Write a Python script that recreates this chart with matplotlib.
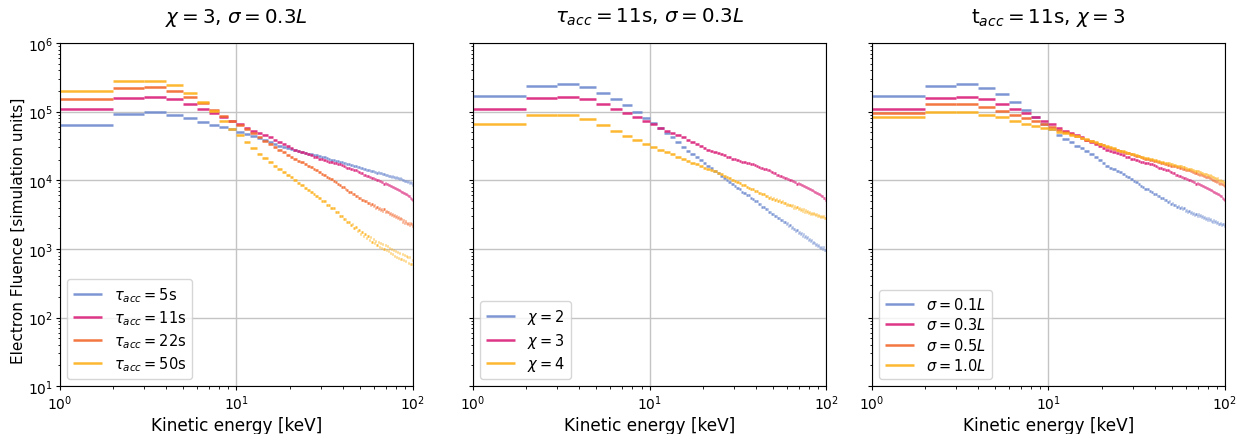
import matplotlib.pyplot as plt
import numpy as np

# energy bin edges [keV], 1 keV wide bins from 1 to 100
edges = np.arange(1, 101)

# electron fluence per bin [simulation units]
tau5 = [6.4e4, 9.2e4, 9.8e4, 9.0e4, 8.1e4, 7.1e4, 6.3e4, 5.9e4, 5.5e4, 5.1e4,
        4.7e4, 4.4e4, 4.1e4, 3.8e4, 3.6e4, 3.4e4, 3.2e4, 3.05e4, 2.95e4, 2.85e4,
        2.75e4, 2.65e4, 2.6e4, 2.5e4, 2.45e4, 2.42e4, 2.35e4, 2.3e4, 2.26e4, 2.2e4,
        2.15e4, 2.12e4, 2.05e4, 2.0e4, 1.98e4, 1.93e4, 1.9e4, 1.87e4, 1.82e4, 1.79e4,
        1.77e4, 1.73e4, 1.7e4, 1.68e4, 1.64e4, 1.63e4, 1.6e4, 1.55e4, 1.54e4, 1.53e4,
        1.49e4, 1.48e4, 1.46e4, 1.43e4, 1.42e4, 1.41e4, 1.38e4, 1.37e4, 1.37e4, 1.33e4,
        1.33e4, 1.29e4, 1.3e4, 1.28e4, 1.26e4, 1.26e4, 1.23e4, 1.24e4, 1.2e4, 1.2e4,
        1.2e4, 1.17e4, 1.15e4, 1.16e4, 1.13e4, 1.14e4, 1.11e4, 1.12e4, 1.08e4, 1.1e4,
        1.07e4, 1.08e4, 1.05e4, 1.06e4, 1.03e4, 1.04e4, 1.0e4, 1.01e4, 9.7e3, 9.9e3,
        9.6e3, 9.7e3, 9.3e3, 9.6e3, 9.2e3, 9.3e3, 8.9e3, 9.1e3, 8.6e3]

tau11 = [1.10e5, 1.57e5, 1.65e5, 1.50e5, 1.27e5, 1.10e5, 9.4e4, 8.2e4, 7.3e4, 6.5e4,
         5.8e4, 5.3e4, 4.9e4, 4.5e4, 4.2e4, 3.9e4, 3.6e4, 3.37e4, 3.15e4, 2.95e4,
         2.75e4, 2.66e4, 2.55e4, 2.46e4, 2.37e4, 2.31e4, 2.21e4, 2.16e4, 2.07e4, 2.01e4,
         1.96e4, 1.93e4, 1.87e4, 1.86e4, 1.8e4, 1.78e4, 1.72e4, 1.7e4, 1.64e4, 1.61e4,
         1.58e4, 1.53e4, 1.52e4, 1.46e4, 1.45e4, 1.4e4, 1.39e4, 1.34e4, 1.33e4, 1.28e4,
         1.26e4, 1.21e4, 1.21e4, 1.17e4, 1.17e4, 1.13e4, 1.13e4, 1.09e4, 1.09e4, 1.04e4,
         1.04e4, 1.0e4, 1.0e4, 9.6e3, 9.6e3, 9.3e3, 9.3e3, 8.9e3, 9.0e3, 8.7e3,
         8.8e3, 8.4e3, 8.5e3, 8.2e3, 8.3e3, 7.9e3, 8.0e3, 7.7e3, 7.8e3, 7.5e3,
         7.5e3, 7.2e3, 7.3e3, 7.0e3, 7.0e3, 6.7e3, 6.8e3, 6.5e3, 6.6e3, 6.3e3,
         6.4e3, 6.1e3, 6.1e3, 5.8e3, 5.9e3, 5.6e3, 5.6e3, 5.3e3, 5.2e3]

tau22 = [1.55e5, 2.19e5, 2.26e5, 2.0e5, 1.62e5, 1.32e5, 1.04e5, 8.6e4, 7.4e4, 6.4e4,
         5.5e4, 4.8e4, 4.2e4, 3.7e4, 3.35e4, 3.05e4, 2.8e4, 2.55e4, 2.35e4, 2.2e4,
         2.05e4, 1.93e4, 1.82e4, 1.72e4, 1.63e4, 1.55e4, 1.47e4, 1.4e4, 1.33e4, 1.24e4,
         1.18e4, 1.12e4, 1.06e4, 1.03e4, 9.7e3, 9.4e3, 8.8e3, 8.6e3, 8.1e3, 7.9e3,
         7.4e3, 7.3e3, 6.8e3, 6.8e3, 6.4e3, 6.3e3, 5.9e3, 5.9e3, 5.6e3, 5.6e3,
         5.2e3, 5.2e3, 4.9e3, 5.0e3, 4.6e3, 4.7e3, 4.4e3, 4.5e3, 4.2e3, 4.3e3,
         4.0e3, 4.1e3, 3.85e3, 4.0e3, 3.7e3, 3.85e3, 3.6e3, 3.75e3, 3.5e3, 3.6e3,
         3.4e3, 3.5e3, 3.25e3, 3.35e3, 3.1e3, 3.2e3, 3.0e3, 3.1e3, 2.9e3, 3.0e3,
         2.8e3, 2.9e3, 2.7e3, 2.8e3, 2.6e3, 2.7e3, 2.5e3, 2.6e3, 2.42e3, 2.52e3,
         2.36e3, 2.48e3, 2.32e3, 2.42e3, 2.26e3, 2.38e3, 2.22e3, 2.3e3, 2.15e3]

tau50 = [1.98e5, 2.76e5, 2.82e5, 2.41e5, 1.85e5, 1.36e5, 1.03e5, 7.4e4, 5.6e4, 4.5e4,
         3.6e4, 2.9e4, 2.45e4, 2.1e4, 1.85e4, 1.62e4, 1.45e4, 1.3e4, 1.2e4, 1.1e4,
         1.0e4, 9.2e3, 8.5e3, 7.6e3, 7.2e3, 6.7e3, 6.3e3, 5.9e3, 5.5e3, 5.0e3,
         4.9e3, 4.4e3, 4.3e3, 3.9e3, 3.9e3, 3.45e3, 3.45e3, 3.05e3, 3.05e3, 2.7e3,
         2.75e3, 2.45e3, 2.5e3, 2.2e3, 2.3e3, 2.0e3, 2.1e3, 1.85e3, 1.9e3, 1.65e3,
         1.75e3, 1.52e3, 1.65e3, 1.42e3, 1.55e3, 1.33e3, 1.48e3, 1.25e3, 1.4e3, 1.2e3,
         1.32e3, 1.13e3, 1.27e3, 1.08e3, 1.23e3, 1.04e3, 1.18e3, 1.0e3, 1.14e3, 9.6e2,
         1.1e3, 9.2e2, 1.04e3, 8.8e2, 1.0e3, 8.4e2, 9.6e2, 8.0e2, 9.3e2, 7.6e2,
         8.9e2, 7.4e2, 8.7e2, 7.2e2, 8.5e2, 7.0e2, 8.3e2, 6.8e2, 8.1e2, 6.6e2,
         7.9e2, 6.5e2, 7.7e2, 6.3e2, 7.5e2, 6.1e2, 7.2e2, 6.0e2, 6.8e2]

chi2 = [1.67e5, 2.39e5, 2.5e5, 2.26e5, 1.89e5, 1.52e5, 1.25e5, 1.0e5, 8.1e4, 6.8e4,
        5.7e4, 4.9e4, 4.2e4, 3.55e4, 3.05e4, 2.7e4, 2.4e4, 2.15e4, 1.95e4, 1.78e4,
        1.63e4, 1.5e4, 1.38e4, 1.27e4, 1.17e4, 1.08e4, 1.0e4, 9.4e3, 8.8e3, 8.3e3,
        7.8e3, 7.4e3, 6.8e3, 6.6e3, 6.1e3, 6.0e3, 5.5e3, 5.4e3, 5.0e3, 4.9e3,
        4.5e3, 4.5e3, 4.1e3, 4.1e3, 3.8e3, 3.8e3, 3.5e3, 3.5e3, 3.2e3, 3.25e3,
        3.0e3, 3.05e3, 2.8e3, 2.85e3, 2.6e3, 2.65e3, 2.45e3, 2.5e3, 2.3e3, 2.35e3,
        2.15e3, 2.2e3, 2.03e3, 2.08e3, 1.92e3, 1.97e3, 1.82e3, 1.87e3, 1.72e3, 1.78e3,
        1.64e3, 1.7e3, 1.56e3, 1.62e3, 1.48e3, 1.54e3, 1.42e3, 1.47e3, 1.35e3, 1.4e3,
        1.29e3, 1.34e3, 1.23e3, 1.28e3, 1.18e3, 1.23e3, 1.13e3, 1.19e3, 1.09e3, 1.15e3,
        1.06e3, 1.11e3, 1.02e3, 1.08e3, 9.9e2, 1.05e3, 9.6e2, 1.01e3, 9.5e2]

chi4 = [6.5e4, 8.8e4, 8.8e4, 7.8e4, 6.3e4, 5.2e4, 4.4e4, 3.9e4, 3.4e4, 3.0e4,
        2.75e4, 2.55e4, 2.38e4, 2.2e4, 2.05e4, 1.92e4, 1.8e4, 1.7e4, 1.61e4, 1.53e4,
        1.46e4, 1.4e4, 1.35e4, 1.29e4, 1.23e4, 1.17e4, 1.12e4, 1.07e4, 1.02e4, 9.8e3,
        9.4e3, 9.1e3, 8.6e3, 8.5e3, 8.0e3, 7.8e3, 7.4e3, 7.4e3, 7.0e3, 7.0e3,
        6.6e3, 6.6e3, 6.2e3, 6.2e3, 5.9e3, 5.95e3, 5.6e3, 5.7e3, 5.4e3, 5.5e3,
        5.2e3, 5.3e3, 5.0e3, 5.1e3, 4.8e3, 4.9e3, 4.6e3, 4.7e3, 4.4e3, 4.55e3,
        4.3e3, 4.4e3, 4.15e3, 4.3e3, 4.0e3, 4.15e3, 3.9e3, 4.05e3, 3.8e3, 3.95e3,
        3.7e3, 3.85e3, 3.6e3, 3.75e3, 3.5e3, 3.65e3, 3.4e3, 3.55e3, 3.32e3, 3.45e3,
        3.27e3, 3.38e3, 3.2e3, 3.3e3, 3.12e3, 3.25e3, 3.08e3, 3.2e3, 3.02e3, 3.15e3,
        2.98e3, 3.1e3, 2.92e3, 3.06e3, 2.88e3, 3.0e3, 2.84e3, 2.96e3, 2.8e3]

sig01 = [1.67e5, 2.39e5, 2.5e5, 2.2e5, 1.8e5, 1.38e5, 1.04e5, 8.3e4, 6.6e4, 5.6e4,
         4.6e4, 4.0e4, 3.6e4, 3.2e4, 2.9e4, 2.65e4, 2.4e4, 2.2e4, 2.0e4, 1.8e4,
         1.62e4, 1.53e4, 1.45e4, 1.37e4, 1.3e4, 1.23e4, 1.16e4, 1.1e4, 1.04e4, 9.8e3,
         9.3e3, 8.9e3, 8.2e3, 8.0e3, 7.5e3, 7.4e3, 6.9e3, 6.8e3, 6.3e3, 6.25e3,
         5.8e3, 5.8e3, 5.45e3, 5.5e3, 5.15e3, 5.2e3, 4.85e3, 4.9e3, 4.55e3, 4.6e3,
         4.3e3, 4.4e3, 4.1e3, 4.2e3, 3.95e3, 4.05e3, 3.8e3, 3.9e3, 3.62e3, 3.72e3,
         3.48e3, 3.58e3, 3.32e3, 3.42e3, 3.22e3, 3.36e3, 3.15e3, 3.27e3, 3.05e3, 3.17e3,
         2.98e3, 3.1e3, 2.9e3, 3.0e3, 2.82e3, 2.92e3, 2.74e3, 2.86e3, 2.66e3, 2.78e3,
         2.6e3, 2.72e3, 2.54e3, 2.66e3, 2.48e3, 2.6e3, 2.43e3, 2.54e3, 2.37e3, 2.48e3,
         2.32e3, 2.43e3, 2.27e3, 2.38e3, 2.22e3, 2.32e3, 2.17e3, 2.27e3, 2.12e3]

sig05 = [9.4e4, 1.28e5, 1.3e5, 1.18e5, 1.02e5, 9.0e4, 8.1e4, 7.3e4, 6.6e4, 6.0e4,
         5.4e4, 5.0e4, 4.65e4, 4.35e4, 4.1e4, 3.9e4, 3.7e4, 3.53e4, 3.37e4, 3.22e4,
         3.08e4, 2.97e4, 2.87e4, 2.77e4, 2.68e4, 2.6e4, 2.53e4, 2.46e4, 2.4e4, 2.33e4,
         2.27e4, 2.22e4, 2.15e4, 2.13e4, 2.07e4, 2.05e4, 1.99e4, 1.98e4, 1.92e4, 1.91e4,
         1.85e4, 1.84e4, 1.79e4, 1.78e4, 1.73e4, 1.72e4, 1.68e4, 1.67e4, 1.63e4, 1.63e4,
         1.59e4, 1.59e4, 1.55e4, 1.55e4, 1.51e4, 1.51e4, 1.47e4, 1.47e4, 1.43e4, 1.43e4,
         1.39e4, 1.39e4, 1.35e4, 1.35e4, 1.32e4, 1.32e4, 1.28e4, 1.28e4, 1.25e4, 1.25e4,
         1.21e4, 1.22e4, 1.18e4, 1.19e4, 1.15e4, 1.16e4, 1.13e4, 1.13e4, 1.1e4, 1.11e4,
         1.07e4, 1.08e4, 1.04e4, 1.05e4, 1.01e4, 1.02e4, 9.8e3, 9.9e3, 9.5e3, 9.6e3,
         9.2e3, 9.3e3, 8.9e3, 9.0e3, 8.7e3, 8.7e3, 8.4e3, 8.5e3, 8.2e3]

sig10 = [8.2e4, 1.0e5, 1.0e5, 9.0e4, 8.2e4, 7.3e4, 6.6e4, 6.2e4, 5.8e4, 5.5e4,
         5.1e4, 4.85e4, 4.6e4, 4.35e4, 4.15e4, 3.95e4, 3.75e4, 3.58e4, 3.42e4, 3.27e4,
         3.13e4, 3.01e4, 2.9e4, 2.8e4, 2.71e4, 2.63e4, 2.56e4, 2.49e4, 2.43e4, 2.37e4,
         2.32e4, 2.28e4, 2.21e4, 2.19e4, 2.13e4, 2.11e4, 2.05e4, 2.03e4, 1.98e4, 1.97e4,
         1.92e4, 1.91e4, 1.86e4, 1.85e4, 1.81e4, 1.8e4, 1.76e4, 1.76e4, 1.71e4, 1.71e4,
         1.67e4, 1.67e4, 1.63e4, 1.63e4, 1.59e4, 1.59e4, 1.55e4, 1.55e4, 1.51e4, 1.51e4,
         1.48e4, 1.48e4, 1.44e4, 1.45e4, 1.41e4, 1.41e4, 1.37e4, 1.38e4, 1.34e4, 1.34e4,
         1.31e4, 1.31e4, 1.28e4, 1.28e4, 1.25e4, 1.25e4, 1.22e4, 1.23e4, 1.2e4, 1.21e4,
         1.17e4, 1.18e4, 1.14e4, 1.15e4, 1.11e4, 1.12e4, 1.08e4, 1.09e4, 1.05e4, 1.06e4,
         1.02e4, 1.03e4, 9.9e3, 1.0e4, 9.7e3, 9.7e3, 9.4e3, 9.5e3, 9.2e3]

c_blue = '#6f8bcf'
c_mag = '#da2079'
c_orange = '#f3672b'
c_yellow = '#fdb01a'

panels = [
    (r'$\chi=3$, $\sigma=0.3L$',
     [tau5, tau11, tau22, tau50],
     [r'$\tau_{acc}=5$s', r'$\tau_{acc}=11$s', r'$\tau_{acc}=22$s', r'$\tau_{acc}=50$s'],
     [c_blue, c_mag, c_orange, c_yellow]),
    (r'$\tau_{acc}=11$s, $\sigma=0.3L$',
     [chi2, tau11, chi4],
     [r'$\chi=2$', r'$\chi=3$', r'$\chi=4$'],
     [c_blue, c_mag, c_yellow]),
    (r't$_{acc}=11$s, $\chi=3$',
     [sig01, tau11, sig05, sig10],
     [r'$\sigma=0.1L$', r'$\sigma=0.3L$', r'$\sigma=0.5L$', r'$\sigma=1.0L$'],
     [c_blue, c_mag, c_orange, c_yellow]),
]

lefts = [0.0482, 0.380, 0.7004]
fig = plt.figure(figsize=(12.45, 4.35), dpi=100)

for i, (title, series, labels, colors) in enumerate(panels):
    ax = fig.add_axes([lefts[i], 0.110, 0.2835, 0.789])
    for y, lab, c in zip(series, labels, colors):
        ax.hlines(y, edges[:-1], edges[1:], colors=c, lw=1.8, alpha=0.9, label=lab)
    ax.set_xscale('log')
    ax.set_yscale('log')
    ax.set_xlim(1, 100)
    ax.set_ylim(10, 1e6)
    ax.grid(True, which='major', color='#c4c4c4', lw=1)
    ax.set_axisbelow(True)
    ax.tick_params(which='major', length=3, pad=2)
    ax.tick_params(which='minor', length=1.8)
    ax.set_title(title, fontsize=14.3, pad=15)
    ax.set_xlabel('Kinetic energy [keV]', fontsize=12.2, labelpad=3)
    if i == 0:
        ax.set_ylabel('Electron Fluence [simulation units]', fontsize=11)
        ax.yaxis.set_label_coords(-0.096, 0.455)
    else:
        ax.tick_params(labelleft=False)
    ax.legend(loc='lower left', fontsize=10.5, labelspacing=0.3)

plt.savefig('out.png')
